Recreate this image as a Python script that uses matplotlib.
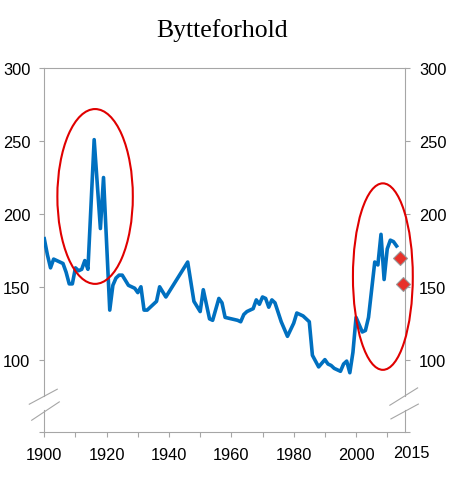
import matplotlib
matplotlib.use('Agg')
import matplotlib.pyplot as plt
from matplotlib.patches import Ellipse
import numpy as np

# Bytteforhold (terms of trade)
years = [1900, 1901, 1902, 1903, 1905, 1906, 1907, 1908, 1909, 1910,
         1911, 1912, 1913, 1914, 1916, 1918, 1919, 1921, 1922, 1923,
         1924, 1925, 1927, 1928, 1929, 1930, 1931, 1932, 1933, 1936,
         1937, 1939, 1946, 1948, 1950, 1951, 1953, 1954, 1956, 1957,
         1958, 1960, 1962, 1963, 1964, 1965, 1967, 1968, 1969, 1970,
         1971, 1972, 1973, 1974, 1976, 1978, 1980, 1981, 1983, 1984,
         1985, 1986, 1988, 1990, 1991, 1992, 1993, 1994, 1995, 1996,
         1997, 1998, 1999, 2000, 2001, 2002, 2003, 2004, 2006, 2007,
         2008, 2009, 2010, 2011, 2012, 2013]
values = [183, 172, 163, 169, 167, 166, 160, 152, 152, 163,
          161, 162, 168, 162, 251, 190, 225, 134, 151, 156,
          158, 158, 151, 150, 149, 146, 150, 134, 134, 140,
          150, 143, 167, 140, 133, 148, 128, 127, 142, 139,
          129, 128, 127, 126, 131, 133, 135, 141, 138, 143,
          142, 136, 141, 139, 126, 116, 125, 132, 130, 128,
          126, 103, 95, 100, 97, 96, 94, 93, 92, 97,
          99, 91, 105, 129, 124, 119, 120, 129, 167, 165,
          186, 155, 176, 182, 181, 178]

proj_years = [2014, 2015]
proj_values = [170, 152]

# ellipses: (center year, center value, width in years, height in units)
circles = [(1916.3, 212, 24.2, 120), (2008.6, 157, 19.2, 128)]

x_labels = [1900, 1920, 1940, 1960, 1980, 2000]
y_ticks = [50, 100, 150, 200, 250, 300]
y_labels = ['', '100', '150', '200', '250', '300']

grey = '#a6a6a6'
blue = '#0070c0'
red = '#e00000'

plt.rcParams['font.family'] = ['Liberation Sans', 'DejaVu Sans']

fig = plt.figure(figsize=(4.5, 4.81), dpi=100)
ax = fig.add_axes([0.0984, 0.0988, 0.8016, 0.7572])

ax.plot(years, values, color=blue, lw=2.6, solid_joinstyle='round', zorder=3)
ax.plot(proj_years, proj_values, ls='none', marker='D', ms=7,
        mfc='#e8312a', mec='#999999', mew=0.8, clip_on=False, zorder=4)

for cx, cy, w, h in circles:
    ax.add_patch(Ellipse((cx, cy), w, h, fill=False, ec=red, lw=1.5,
                         clip_on=False, zorder=5))

ax.set_xlim(1900, 2015.7)
ax.set_ylim(50, 300)

ax.set_xticks(np.arange(1900, 2011, 10))
ax.set_xticklabels([str(t) if t in x_labels else '' for t in range(1900, 2011, 10)])
ax.set_yticks(y_ticks)
ax.set_yticklabels(y_labels)

ax.tick_params(axis='both', direction='out', length=3.6, width=0.8,
               color=grey, labelsize=11.8, labelcolor='black')
ax.tick_params(axis='y', pad=6.5, right=True, labelright=True)
ax.tick_params(axis='x', pad=7)

ax.text(2017.9, -0.056, '2015', transform=ax.get_xaxis_transform(),
        ha='center', va='center', fontsize=11.8)

for s in ['top', 'bottom']:
    ax.spines[s].set_color(grey)
    ax.spines[s].set_linewidth(0.8)
for s in ['left', 'right']:
    ax.spines[s].set_visible(False)

# side axes drawn with a gap for the axis break
yt = ax.get_yaxis_transform()
for xa in [0, 1]:
    ax.plot([xa, xa], [50, 65.3], color=grey, lw=0.8, transform=yt, clip_on=False)
    ax.plot([xa, xa], [74.7, 300], color=grey, lw=0.8, transform=yt, clip_on=False)

# break marks
ax.plot([-0.0416, 0.036], [69.4, 79.7], color=grey, lw=0.8, transform=yt, clip_on=False)
ax.plot([-0.0349, 0.0416], [58.4, 71.0], color=grey, lw=0.8, transform=yt, clip_on=False)
ax.plot([0.958, 1.035], [68.7, 80.6], color=grey, lw=0.8, transform=yt, clip_on=False)
ax.plot([0.961, 1.037], [59.3, 69.5], color=grey, lw=0.8, transform=yt, clip_on=False)

fig.text(0.493, 0.924, 'Bytteforhold', ha='center', va='baseline',
         fontsize=18.5, family=['Liberation Serif', 'DejaVu Serif'])

fig.savefig('out.png', dpi=100)
